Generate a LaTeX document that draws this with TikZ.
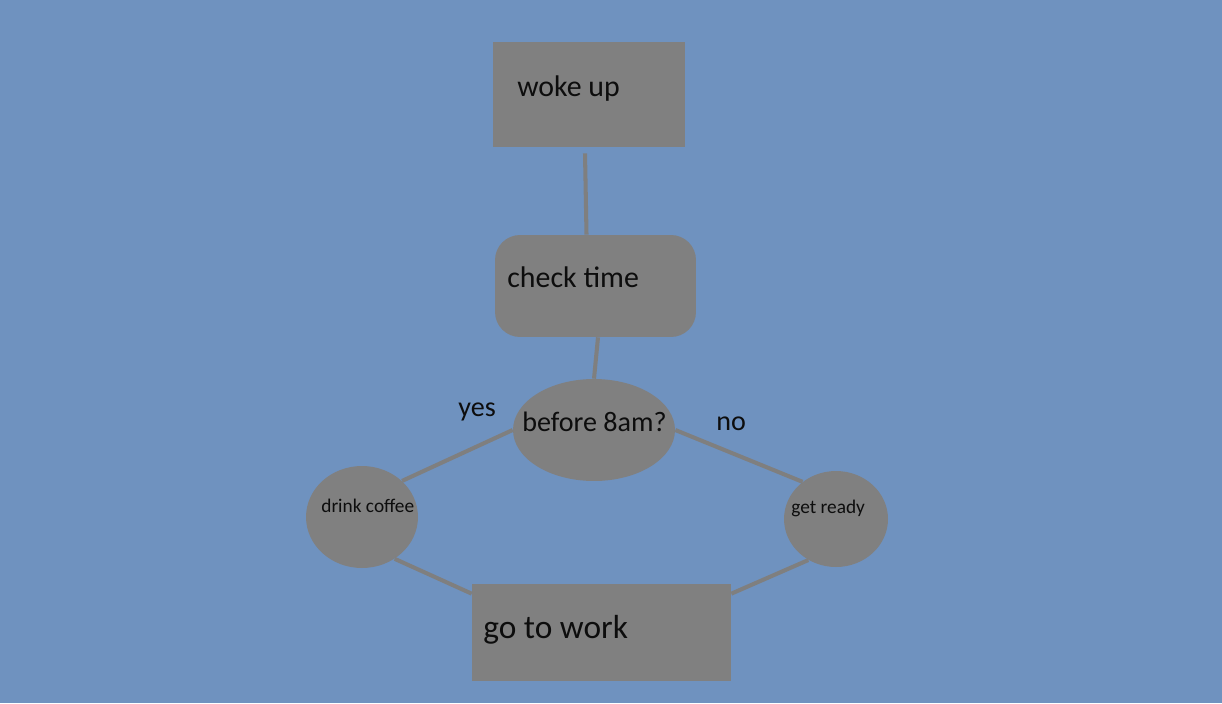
\documentclass[tikz,border=0pt]{standalone}
\usepackage{fontspec}
\setmainfont{Carlito}
\usepackage{tikz}
\usetikzlibrary{shapes.geometric}
\definecolor{bgblue}{RGB}{111,146,191}
\definecolor{boxgray}{RGB}{128,128,128}
\definecolor{linegray}{RGB}{127,127,127}
\begin{document}
\begin{tikzpicture}[x=0.02cm,y=-0.02cm,
box/.style={fill=boxgray,draw=none,inner sep=0pt},
link/.style={draw=linegray,line width=2.3pt},
txt/.style={inner sep=0pt,anchor=base west,text=black!95}]
\fill[bgblue] (0,0) rectangle (1222,703);
\node[box,rectangle,minimum width=3.84cm,minimum height=2.1cm] (wake) at (589,94.5) {};
\node[box,rectangle,rounded corners=0.5cm,minimum width=4.02cm,minimum height=2.04cm] (check) at (595.5,286) {};
\node[box,ellipse,minimum width=3.24cm,minimum height=2.04cm] (early) at (594,430) {};
\node[box,ellipse,minimum width=2.24cm,minimum height=2.04cm] (coffee) at (362,517) {};
\node[box,ellipse,minimum width=2.08cm,minimum height=1.92cm] (ready) at (836,519) {};
\node[box,rectangle,minimum width=5.18cm,minimum height=1.94cm] (work) at (601.5,632.5) {};
\draw[link] ([shift={(-4,6)}]wake.south) -- ([shift={(-9,0)}]check.north);
\draw[link] ([shift={(2.5,0)}]check.south) -- (early.north);
\draw[link] (early.west) -- (coffee.42);
\draw[link] (early.east) -- (ready.132);
\draw[link] (coffee.-52) -- ([shift={(0,10)}]work.north west);
\draw[link] (ready.-124) -- ([shift={(0,10)}]work.north east);
\node[txt,font=\fontsize{17}{20}\selectfont] (wakeTxt) at (517,96) {woke up};
\node[txt,font=\fontsize{17}{20}\selectfont] (checkTxt) at (507,287) {check time};
\node[txt,font=\fontsize{16}{19}\selectfont] (earlyTxt) at (522,431) {before 8am?};
\node[txt,font=\fontsize{16}{19}\selectfont] (yesTxt) at (458,416) {yes};
\node[txt,font=\fontsize{16}{19}\selectfont] (noTxt) at (716,430) {no};
\node[txt,font=\fontsize{11}{13}\selectfont] (coffeeTxt) at (321,512) {drink coffee};
\node[txt,font=\fontsize{11}{13}\selectfont] (readyTxt) at (791,513) {get ready};
\node[txt,font=\fontsize{19}{22}\selectfont] (workTxt) at (483,638) {go to work};
\end{tikzpicture}
\end{document}
